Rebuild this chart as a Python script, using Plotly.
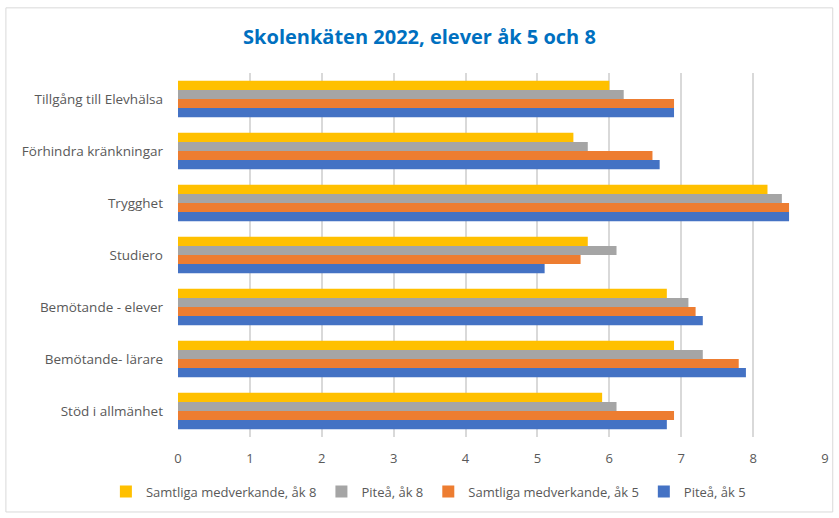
import plotly.graph_objects as go

categories = ['Stöd i allmänhet', 'Bemötande- lärare', 'Bemötande - elever', 'Studiero',
              'Trygghet', 'Förhindra kränkningar', 'Tillgång till Elevhälsa']

pitea_5 = [6.8, 7.9, 7.3, 5.1, 8.5, 6.7, 6.9]
samtliga_5 = [6.9, 7.8, 7.2, 5.6, 8.5, 6.6, 6.9]
pitea_8 = [6.1, 7.3, 7.1, 6.1, 8.4, 5.7, 6.2]
samtliga_8 = [5.9, 6.9, 6.8, 5.7, 8.2, 5.5, 6.0]

series = [
    ('Piteå, åk 5', pitea_5, '#4472C4'),
    ('Samtliga medverkande, åk 5', samtliga_5, '#ED7D31'),
    ('Piteå, åk 8', pitea_8, '#A5A5A5'),
    ('Samtliga medverkande, åk 8', samtliga_8, '#FFC000'),
]

fig = go.Figure()
for name, vals, col in series:
    fig.add_trace(go.Bar(y=categories, x=vals, name=name, orientation='h',
                         marker=dict(color=col, line=dict(width=0))))

fig.update_layout(
    width=839, height=518,
    barmode='group', bargap=0.3, bargroupgap=0,
    plot_bgcolor='white', paper_bgcolor='white',
    font=dict(family='Open Sans, sans-serif', color='#595959', size=13),
    title=dict(text='<b>Skolenkäten 2022, elever åk 5 och 8</b>', x=0.5, xanchor='center',
               y=0.928, yanchor='middle',
               font=dict(size=20, color='#0070C0', family='Open Sans, sans-serif')),
    margin=dict(l=178, r=10, t=73, b=81),
    xaxis=dict(range=[0, 9], dtick=1, showgrid=True, gridcolor='#D9D9D9', gridwidth=1.5,
               zeroline=False, showline=False, ticks='', ticklabelstandoff=12,
               tickfont=dict(size=13, color='#595959')),
    yaxis=dict(showgrid=False, showline=False, ticks='', ticklabelstandoff=14,
               tickfont=dict(size=13.5, color='#595959')),
    legend=dict(orientation='h', traceorder='reversed', x=0.387, xanchor='center',
                y=-0.15, yanchor='middle', itemwidth=30,
                font=dict(size=13, color='#595959')),
    shapes=[dict(type='rect', xref='paper', yref='paper', x0=-0.266, x1=1.012,
                 y0=-0.206, y1=1.179, line=dict(color='#D9D9D9', width=1))],
)

# drop the default body margin so the figure sits at the page corner
fig.write_html("out.html", config={'displayModeBar': False},
               post_script="document.body.style.margin='0';")
